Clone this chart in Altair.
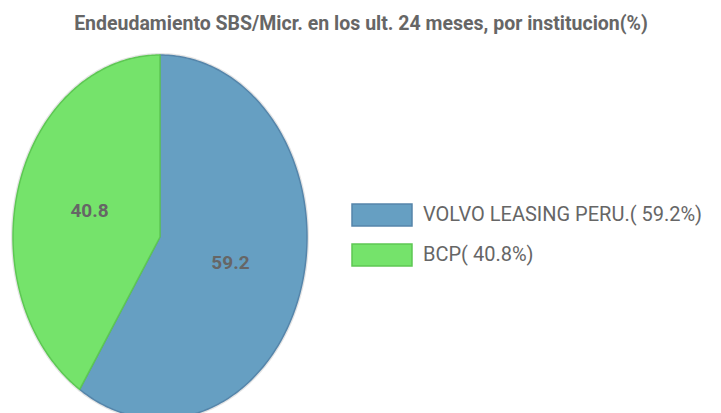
import altair as alt
import pandas as pd

categories = ["VOLVO LEASING PERU.", "BCP"]
values = [59.2, 40.8]
legend_labels = ["VOLVO LEASING PERU.( 59.2%)", "BCP( 40.8%)"]
fill_colors = ["#669fc2", "#75e36b"]
stroke_colors = ["#5585aa", "#5dc853"]

df = pd.DataFrame({
    "cat": categories,
    "value": values,
    "legend": legend_labels,
    "order": list(range(len(categories))),
})

TITLE_FONT = "Roboto"

base = alt.Chart(df).transform_window(
    cum="sum(value)", sort=[alt.SortField("order")], frame=[None, 0]
).transform_joinaggregate(
    total="sum(value)"
).transform_calculate(
    a0="(datum.cum - datum.value) / datum.total * 2 * PI",
    a1="datum.cum / datum.total * 2 * PI",
)

shapes = base.transform_calculate(
    step="sequence(-1, 202)"
).transform_flatten(["step"]).transform_calculate(
    ang="datum.a0 + (datum.a1 - datum.a0) * clamp(datum.step, 0, 200) / 200",
    inside="datum.step < 0 || datum.step > 200 ? 0 : 1",
).transform_calculate(
    px="datum.inside * sin(datum.ang)",
    py="datum.inside * cos(datum.ang)",
)

xscale = alt.Scale(domain=[-1, 1], nice=False, zero=False)
yscale = alt.Scale(domain=[-1, 1], nice=False, zero=False)

halo = shapes.mark_line(strokeWidth=4, stroke="#e4e4e4", strokeJoin="round").encode(
    x=alt.X("px:Q", scale=xscale, axis=None),
    y=alt.Y("py:Q", scale=yscale, axis=None),
    detail="cat:N",
    order="step:Q",
)

pie = shapes.mark_line(strokeWidth=1.5, strokeJoin="round").encode(
    x=alt.X("px:Q", scale=xscale, axis=None),
    y=alt.Y("py:Q", scale=yscale, axis=None),
    fill=alt.Fill(
        "legend:N",
        scale=alt.Scale(domain=legend_labels, range=fill_colors),
        sort=legend_labels,
        legend=alt.Legend(
            title=None,
            orient="none",
            legendX=357,
            legendY=148,
            symbolType="M-2.727,-1L2.727,-1L2.727,1L-2.727,1Z",
            symbolSize=484,
            symbolStrokeWidth=1.5,
            labelFont="Roboto",
            labelFontSize=20,
            labelColor="#666666",
            labelOffset=29,
            rowPadding=12,
            labelLimit=400,
        ),
    ),
    stroke=alt.Stroke(
        "legend:N",
        scale=alt.Scale(domain=legend_labels, range=stroke_colors),
        sort=legend_labels,
        legend=None,
    ),
    detail="cat:N",
    order="step:Q",
)

labels = base.transform_calculate(
    mid="(datum.a0 + datum.a1) / 2",
).transform_calculate(
    lx="0.5 * sin(datum.mid)",
    ly="0.5 * cos(datum.mid)",
    txt="format(datum.value, '.1f')",
).mark_text(
    font=TITLE_FONT, fontSize=19, fontWeight="bold", color="#666666"
).encode(
    x=alt.X("lx:Q", scale=xscale, axis=None),
    y=alt.Y("ly:Q", scale=yscale, axis=None),
    text="txt:N",
)

chart = alt.layer(halo, pie, labels).properties(
    width=294,
    height=364,
    padding={"left": 3, "top": 5, "right": 5, "bottom": 5},
    title=alt.TitleParams(
        "Endeudamiento SBS/Micr. en los ult. 24 meses, por institucion(%)",
        font=TITLE_FONT,
        fontSize=19.5,
        fontWeight="bold",
        color="#666666",
        anchor="middle",
        frame="bounds",
        offset=19,
        dx=4,
    ),
).configure_view(stroke=None)

chart.save("out.html", embed_options={"renderer": "svg", "actions": False})
